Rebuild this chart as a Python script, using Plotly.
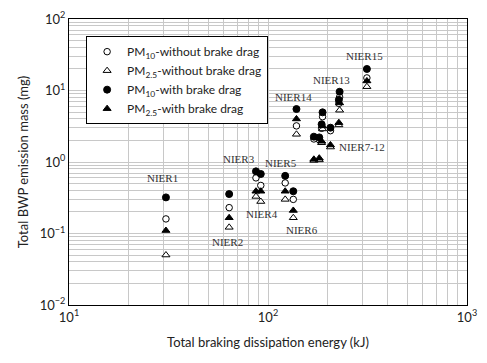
import plotly.graph_objects as go

# Data
tests = ["NIER1", "NIER2", "NIER3", "NIER4", "NIER5", "NIER6", "NIER7", "NIER8",
         "NIER9", "NIER10", "NIER11", "NIER12", "NIER13", "NIER14", "NIER15"]
energy_kj = [30.7, 63.8, 87, 92, 122, 134, 170, 181, 186, 188, 206, 227, 229, 139, 314]
pm10_without = [0.16, 0.23, 0.60, 0.47, 0.51, 0.30, 2.1, 2.05, 2.96, 4.3, 2.74, 6.6, 8.1, 3.2, 15.0]
pm25_without = [0.05, 0.122, 0.33, 0.28, 0.30, 0.166, 1.05, 1.07, 1.86, 2.9, 1.62, 3.3, 5.3, 2.44, 11.3]
pm10_with = [0.32, 0.356, 0.74, 0.68, 0.64, 0.39, 2.26, 2.21, 3.37, 4.95, 3.02, 7.4, 9.6, 5.5, 20.0]
pm25_with = [0.11, 0.166, 0.39, 0.39, 0.39, 0.21, 1.09, 1.13, 1.95, 3.2, 1.73, 3.55, 6.7, 4.0, 13.6]

x_tickvals = [10, 100, 1000]
x_ticktext = ["10<sup>1</sup>", "10<sup>2</sup>", "10<sup>3</sup>"]
y_tickvals = [0.01, 0.1, 1, 10, 100]
y_ticktext = ["10<sup>\u22122</sup>", "10<sup>\u22121</sup>", "10<sup>0</sup>", "10<sup>1</sup>", "10<sup>2</sup>"]

series = [
    ("PM<sub>10</sub>-without brake drag", pm10_without, "circle", "white", 6.5),
    ("PM<sub>2.5</sub>-without brake drag", pm25_without, "triangle-up", "white", 7),
    ("PM<sub>10</sub>-with brake drag", pm10_with, "circle", "black", 7),
    ("PM<sub>2.5</sub>-with brake drag", pm25_with, "triangle-up", "black", 7),
]

fig = go.Figure()
for name, vals, sym, col, sz in series:
    fig.add_trace(go.Scatter(
        x=energy_kj, y=vals, mode="markers", name=name,
        marker=dict(symbol=sym, color=col, size=sz, line=dict(color="black", width=1)),
    ))

labels = [
    ("NIER1", 163, 178), ("NIER2", 228, 242), ("NIER3", 238.7, 159.3),
    ("NIER4", 261.7, 214.3), ("NIER5", 280.7, 163.3), ("NIER6", 301.7, 230),
    ("NIER7-12", 361.7, 146.7), ("NIER13", 331.7, 80), ("NIER14", 293.3, 96.7),
    ("NIER15", 364.3, 56),
]
L, R, T, B = 69.3, 466.7, 19, 305
for txt, px, py in labels:
    fig.add_annotation(
        x=(px - L) / (R - L), y=(B - py) / (B - T), xref="paper", yref="paper",
        xanchor="center", yanchor="middle",
        text=txt, showarrow=False,
        font=dict(family="Liberation Serif", size=11, color="#333"),
    )

grid = "#c8c8c8"
fig.update_xaxes(
    type="log", range=[1, 3], tickvals=x_tickvals, ticktext=x_ticktext,
    showgrid=True, gridcolor=grid, gridwidth=1,
    minor=dict(dtick="D1", showgrid=True, gridcolor=grid, gridwidth=1),
    showline=True, linecolor="black", linewidth=1, mirror=True,
    ticks="", zeroline=False, automargin=False,
    title=dict(text="Total braking dissipation energy (kJ)", font=dict(size=13), standoff=14),
    tickfont=dict(size=13),
)
fig.update_yaxes(
    type="log", range=[-2, 2], tickvals=y_tickvals, ticktext=y_ticktext,
    showgrid=True, gridcolor=grid, gridwidth=1,
    minor=dict(dtick="D1", showgrid=True, gridcolor=grid, gridwidth=1),
    showline=True, linecolor="black", linewidth=1, mirror=True,
    ticks="", zeroline=False, automargin=False,
    title=dict(text="Total BWP emission mass (mg)", font=dict(size=13), standoff=8),
    tickfont=dict(size=13),
)
# page body has an 8px margin; figure is sized/offset to land where the reference is
fig.update_layout(
    width=471, height=347,
    margin=dict(l=61.3, r=12.3, t=11, b=50),
    paper_bgcolor="white", plot_bgcolor="white",
    font=dict(family="Lato", color="#222"),
    legend=dict(
        x=0.043, y=0.94, xanchor="left", yanchor="top",
        bgcolor="white", bordercolor="black", borderwidth=1,
        font=dict(size=12, color="#222"), tracegroupgap=0, itemwidth=30,
    ),
    showlegend=True,
)
fig.write_html("out.html")
